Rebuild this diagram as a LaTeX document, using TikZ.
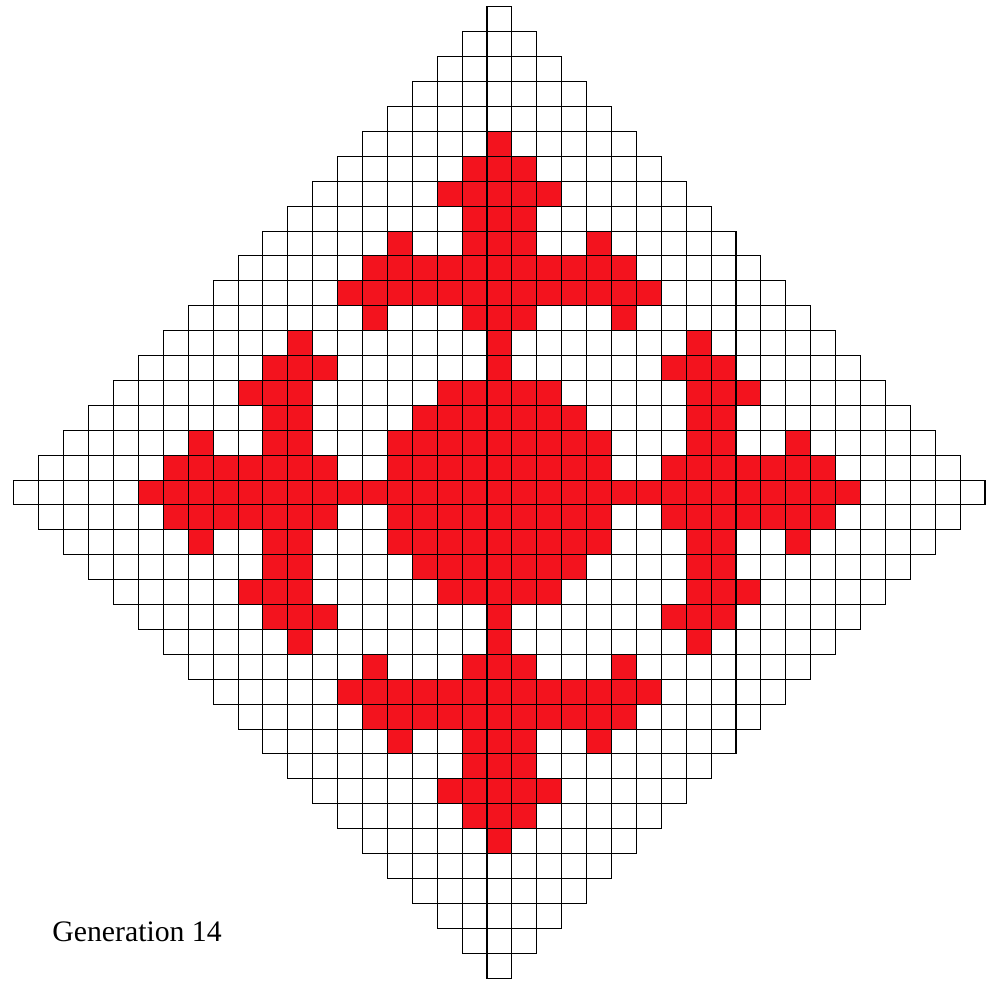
\documentclass[tikz,border=0pt]{standalone}
\usepackage{fontspec}
\setmainfont{Liberation Serif}
\definecolor{cellred}{RGB}{243,19,30}

\begin{document}
\begin{tikzpicture}[
x=0.5cm, y=0.5cm,
cell/.style={draw=black, line width=0.6pt, line cap=rect},
alive/.style={fill=cellred},
genlabel/.style={anchor=base west, inner sep=0pt, font=\fontsize{17}{20}\selectfont}
]

\useasboundingbox (-20.06,-19.58) rectangle (19.54,19.78);

\foreach \turn in {0,90,180,270} {
  \begin{scope}[rotate=\turn]
  \foreach \y/\a/\b in {14/0/0, 13/-1/1, 12/-2/2, 11/-1/1, 10/-4/-4, 10/-1/1, 10/4/4,
                        9/-5/5, 8/-6/6, 7/-5/-5, 7/-1/1, 7/5/5, 6/0/0,
                        5/0/0, 4/-2/2, 3/-3/3, 2/-4/4, 1/-4/4, 0/-5/5} {
    \fill[alive] (\a-0.5,\y-0.5) rectangle (\b+0.5,\y+0.5);
  }
  \end{scope}
}

\foreach \m in {-20,...,19} {
  \pgfmathtruncatemacro{\w}{19-min(abs(\m),abs(\m+1))}
  \draw[cell] (-\w-0.5,\m+0.5) -- (\w+0.5,\m+0.5);
  \draw[cell] (\m+0.5,-\w-0.5) -- (\m+0.5,\w+0.5);
}

\node[genlabel] (gen) at (-17.97,-18.05) {Generation 14};

\end{tikzpicture}
\end{document}
